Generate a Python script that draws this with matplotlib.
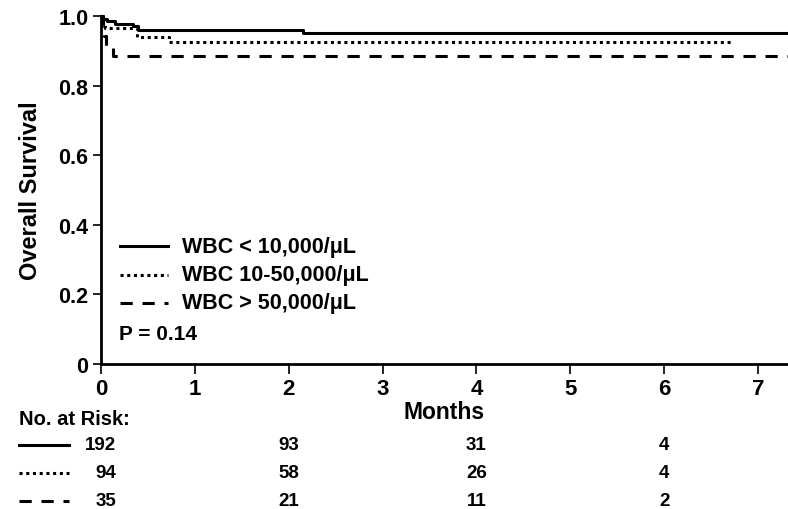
import matplotlib
matplotlib.use("Agg")
import matplotlib.pyplot as plt
from matplotlib.lines import Line2D
import matplotlib.transforms as mtransforms

plt.rcParams['font.family'] = ['Liberation Sans', 'DejaVu Sans']
plt.rcParams['font.weight'] = 'bold'

# Kaplan-Meier step data (months, survival)
t_low = [0, 0.02, 0.06, 0.15, 0.34, 0.39, 2.15, 7.32]
s_low = [1.0, 0.990, 0.985, 0.977, 0.971, 0.961, 0.951, 0.951]
t_mid = [0, 0.01, 0.02, 0.04, 0.38, 0.72, 6.72]
s_mid = [1.0, 0.989, 0.978, 0.966, 0.940, 0.926, 0.926]
t_high = [0, 0.02, 0.03, 0.05, 0.13, 7.32]
s_high = [1.0, 0.971, 0.943, 0.914, 0.886, 0.886]

labels = ["WBC < 10,000/\u03bcL", "WBC 10-50,000/\u03bcL", "WBC > 50,000/\u03bcL"]
risk_times = [0, 2, 4, 6]
risk_low = [192, 93, 31, 4]
risk_mid = [94, 58, 26, 4]
risk_high = [35, 21, 11, 2]

styles = ['-', (0, (1, 1.2)), (0, (4, 3.2))]
LW = 2.2

W, H = 788, 510
fig = plt.figure(figsize=(W / 100, H / 100), dpi=100)
ax = fig.add_axes([101 / W, (H - 365) / H, (W - 101) / W, 348 / H])


def fy(py):
    # pixel row (from top) -> figure fraction
    return 1 - py / H


series = [(t_low, s_low), (t_mid, s_mid), (t_high, s_high)]
for (t, s), ls in zip(series, styles):
    ax.step(t, s, where='post', color='black', lw=LW, linestyle=ls, clip_on=False)

ax.set_xlim(0, 7.32)
ax.set_ylim(0, 1.0)
ax.set_xticks(range(8))
ax.set_yticks([0, 0.2, 0.4, 0.6, 0.8, 1.0])
ax.set_yticklabels(["0", "0.2", "0.4", "0.6", "0.8", "1.0"])
ax.tick_params(axis='both', width=1.2, direction='out')
ax.tick_params(axis='x', length=7, pad=3, labelsize=16)
ax.tick_params(axis='y', length=6, pad=3, labelsize=15.5)
for lab in ax.get_xticklabels() + ax.get_yticklabels():
    lab.set_fontweight('bold')
ax.spines['top'].set_visible(False)
ax.spines['right'].set_visible(False)
ax.spines['left'].set_linewidth(2.0)
ax.spines['bottom'].set_linewidth(2.0)

ax.set_ylabel("Overall Survival", fontsize=17, fontweight='bold', labelpad=12)
ax.set_xlabel("Months", fontsize=16.5, fontweight='bold', labelpad=1)

# legend drawn by hand
leg_y = [247, 276, 304]
for lab, ls, yp in zip(labels, styles, leg_y):
    fig.add_artist(Line2D([120 / W, 168 / W], [fy(yp), fy(yp)], color='black',
                          lw=LW, linestyle=ls, transform=fig.transFigure))
    fig.text(182 / W, fy(yp), lab, fontsize=15.5, fontweight='bold',
             va='center', ha='left')

fig.text(119 / W, fy(335), "P = 0.14", fontsize=15, fontweight='bold',
         va='center', ha='left')

# number at risk table
fig.text(19 / W, fy(420), "No. at Risk:", fontsize=14.5, fontweight='bold',
         va='center', ha='left')
trans = mtransforms.blended_transform_factory(ax.transData, fig.transFigure)
rows = [risk_low, risk_mid, risk_high]
row_y = [446, 474, 502]
for vals, ls, yp in zip(rows, styles, row_y):
    fig.add_artist(Line2D([19 / W, 69 / W], [fy(yp), fy(yp)], color='black',
                          lw=LW, linestyle=ls, transform=fig.transFigure))
    fig.text(116 / W, fy(yp), str(vals[0]), fontsize=13.5, fontweight='bold',
             ha='right', va='center')
    for tm, v in zip(risk_times[1:], vals[1:]):
        fig.text(tm, fy(yp), str(v), transform=trans, fontsize=13.5,
                 fontweight='bold', ha='center', va='center')

fig.savefig("out.png", dpi=100)
